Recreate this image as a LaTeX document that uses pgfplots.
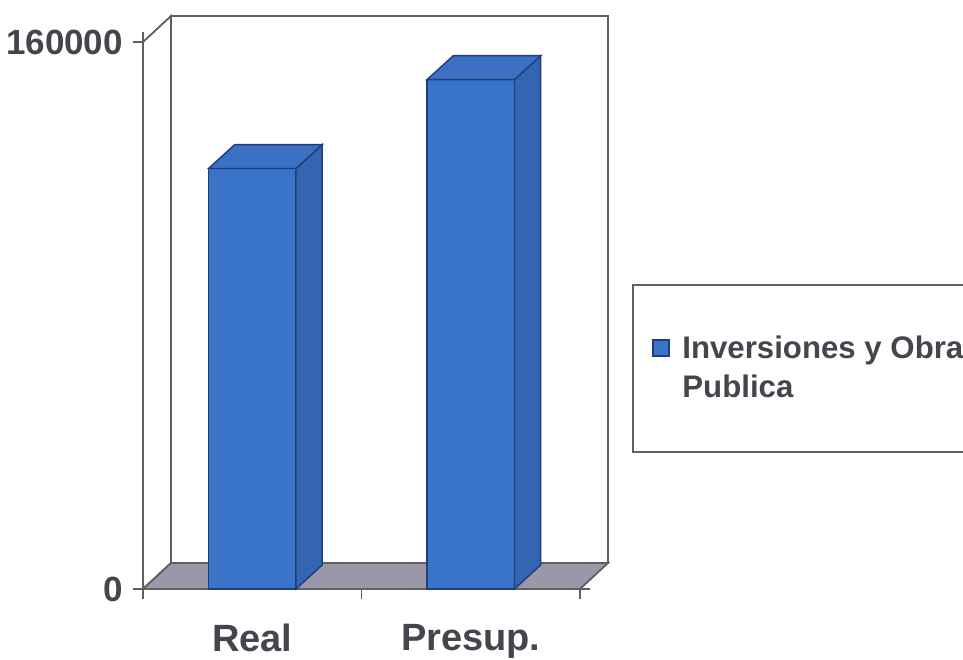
\documentclass[border=0pt]{standalone}
\usepackage{fontspec}
\setmainfont{Liberation Sans}
\usepackage{pgfplots}
\usepackage{pgfplotstable}
\pgfplotsset{compat=1.18}

\definecolor{barfront}{HTML}{3A74C8}
\definecolor{barside}{HTML}{3465B3}
\definecolor{bartop}{HTML}{3C70C2}
\definecolor{baredge}{HTML}{1F3E7A}
\definecolor{floorc}{HTML}{9A98A8}
\definecolor{wallc}{HTML}{5E5E64}
\definecolor{txt}{HTML}{45454D}

% bar heights
\pgfplotstableread{
x v
1 123000
2 149000
}\datatable
\def\vA{123000}
\def\vB{149000}
% top of the back edge of each bar (value + depth)
\def\tA{130000}
\def\tB{156000}

\begin{document}
\begin{tikzpicture}[x=0.5pt,y=0.5pt]
\begin{axis}[
  at={(0,0)}, anchor=south west,
  scale only axis,
  width=218.5pt, height=273.5pt,
  xmin=0.5, xmax=2.5,
  ymin=0, ymax=160000,
  clip=false,
  axis line style={draw=none},
  xtick={1,2},
  xticklabels={Real,Presup.},
  x tick style={draw=none},
  xticklabel style={font=\bfseries\fontsize{19}{19}\selectfont, text=txt, yshift=-9pt},
  ytick={0,160000},
  scaled y ticks=false,
  y tick style={draw=wallc, line width=0.9pt},
  tick align=outside,
  major tick length=5pt,
  yticklabel style={font=\bfseries\fontsize{17.5}{17.5}\selectfont, text=txt, xshift=-1.5pt,
    /pgf/number format/.cd, fixed, 1000 sep={}, assume math mode=true},
  extra x ticks={0.5,1.5,2.5},
  extra x tick labels={},
  extra x tick style={x tick style={draw=wallc, line width=0.9pt}, major tick length=5pt},
]
% left wall
\addplot[draw=wallc, line width=0.9pt, fill=white] coordinates
  {(0.5,0) (0.628,7600) (0.628,167600) (0.5,160000)} -- cycle;
% back wall
\addplot[draw=wallc, line width=0.9pt, fill=white] coordinates
  {(0.628,7600) (2.628,7600) (2.628,167600) (0.628,167600)} -- cycle;
% floor
\addplot[draw=wallc, line width=0.9pt, fill=floorc] coordinates
  {(0.5,0) (2.5,0) (2.628,7600) (0.628,7600)} -- cycle;
% front axis lines
\addplot[draw=wallc, line width=0.9pt] coordinates {(0.5,160000) (0.5,0) (2.5,0)};

% bars, front faces
\addplot[ybar, bar width=0.4, fill=barfront, draw=baredge, line width=0.7pt]
  table[x=x, y=v] {\datatable};
% side and top faces
\addplot[fill=barside, draw=baredge, line width=0.7pt] coordinates
  {(1.2,0) (1.32,7000) (1.32,\tA) (1.2,\vA)} -- cycle;
\addplot[fill=bartop, draw=baredge, line width=0.7pt] coordinates
  {(0.8,\vA) (1.2,\vA) (1.32,\tA) (0.92,\tA)} -- cycle;
\addplot[fill=barside, draw=baredge, line width=0.7pt] coordinates
  {(2.2,0) (2.32,7000) (2.32,\tB) (2.2,\vB)} -- cycle;
\addplot[fill=bartop, draw=baredge, line width=0.7pt] coordinates
  {(1.8,\vB) (2.2,\vB) (2.32,\tB) (1.92,\tB)} -- cycle;
\end{axis}
% legend
\draw[draw=wallc, line width=0.9pt, fill=white] (490,137) rectangle (900,304);
\fill[barfront, draw=baredge, line width=0.6pt] (510,233) rectangle (526,249);
\node[anchor=base west, inner sep=0pt, text=txt,
  font=\bfseries\fontsize{15.6}{18}\selectfont] at (539,231) {Inversiones y Obra};
\node[anchor=base west, inner sep=0pt, text=txt,
  font=\bfseries\fontsize{15.6}{18}\selectfont] at (539,192) {Publica};
\pgfresetboundingbox
\path (-143,-70) rectangle (820,589);
\end{tikzpicture}
\end{document}
